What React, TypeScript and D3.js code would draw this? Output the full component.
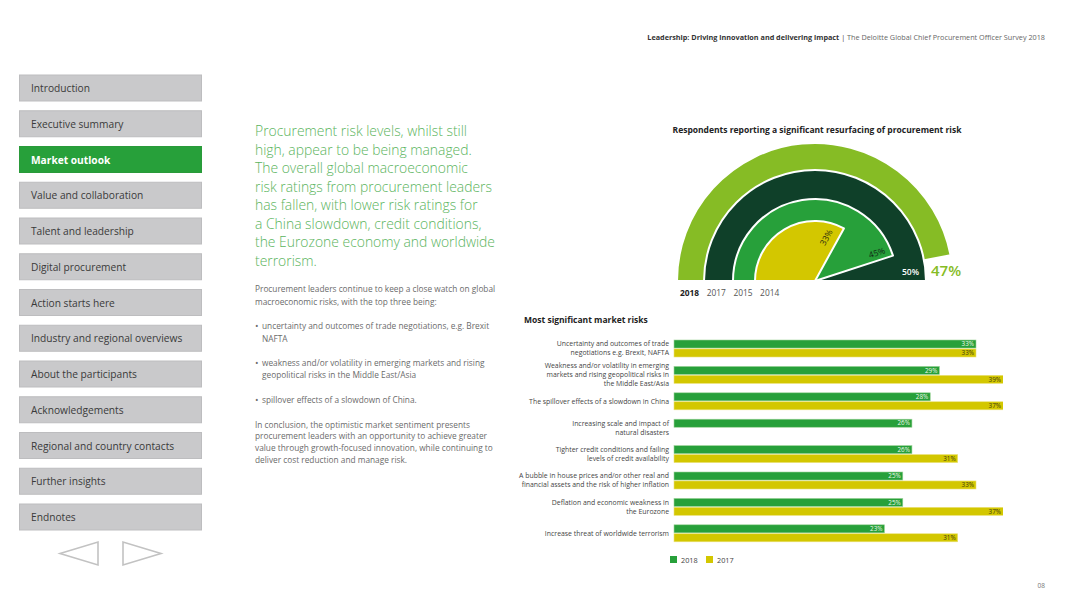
import React from "react";
import * as d3 from "d3";

const W = 1080;
const H = 607;
const FONT = "'Open Sans', 'DejaVu Sans', sans-serif";

// ---------- data ----------
const navItems = [
  "Introduction",
  "Executive summary",
  "Market outlook",
  "Value and collaboration",
  "Talent and leadership",
  "Digital procurement",
  "Action starts here",
  "Industry and regional overviews",
  "About the participants",
  "Acknowledgements",
  "Regional and country contacts",
  "Further insights",
  "Endnotes",
];
const activeNav = "Market outlook";

const headerBold = "Leadership: Driving innovation and delivering impact";
const headerRest = "The Deloitte Global Chief Procurement Officer Survey 2018";
const pageNumber = "08";

const leadLines = [
  "Procurement risk levels, whilst still",
  "high, appear to be being managed.",
  "The overall global macroeconomic",
  "risk ratings from procurement leaders",
  "has fallen, with lower risk ratings for",
  "a China slowdown, credit conditions,",
  "the Eurozone economy and worldwide",
  "terrorism.",
];
const introLines = [
  "Procurement leaders continue to keep a close watch on global",
  "macroeconomic risks, with the top three being:",
];
const bulletLines = [
  ["uncertainty and outcomes of trade negotiations, e.g. Brexit", "NAFTA"],
  ["weakness and/or volatility in emerging markets and rising", "geopolitical risks in the Middle East/Asia"],
  ["spillover effects of a slowdown of China."],
];
const conclusionLines = [
  "In conclusion, the optimistic market sentiment presents",
  "procurement leaders with an opportunity to achieve greater",
  "value through growth-focused innovation, while continuing to",
  "deliver cost reduction and manage risk.",
];

const gaugeTitle = "Respondents reporting a significant resurfacing of procurement risk";
const gaugeYears = ["2018", "2017", "2015", "2014"];
const gaugeValues = [47, 50, 45, 33];

const riskTitle = "Most significant market risks";
const riskCategories = [
  ["Uncertainty and outcomes of trade", "negotiations e.g. Brexit, NAFTA"],
  ["Weakness and/or volatility in emerging", "markets and rising geopolitical risks in", "the Middle East/Asia"],
  ["The spillover effects of a slowdown in China"],
  ["Increasing scale and impact of", "natural disasters"],
  ["Tighter credit conditions and failing", "levels of credit availability"],
  ["A bubble in house prices and/or other real and", "financial assets and the risk of higher inflation"],
  ["Deflation and economic weakness in", "the Eurozone"],
  ["Increase threat of worldwide terrorism"],
];
const risk2018 = [33, 29, 28, 26, 26, 25, 25, 23];
const risk2017: (number | null)[] = [33, 39, 37, null, 31, 33, 37, 31];
const seriesNames = ["2018", "2017"];

// ---------- styles ----------
const C = {
  lightGreen: "#86bc25",
  darkGreen: "#0f4029",
  green: "#27a03a",
  yellow: "#d3c700",
  navGray: "#c9c9cb",
  text: "#333",
  gray: "#6b6b6b",
  lead: "#5ab45d",
};

export default function App() {
  // ---- gauge ----
  const cx = 815;
  const cy = 281;
  const gaugeRadii = [138, 111, 82, 60];
  const gaugeColors = [C.lightGreen, C.darkGreen, C.green, C.yellow];
  const angle = d3.scaleLinear().domain([0, 50]).range([-Math.PI / 2, Math.PI / 2]);
  const arc = d3.arc<any>();
  const polar = (r: number, a: number) => [cx + r * Math.sin(a), cy - r * Math.cos(a)];

  // ---- bars ----
  const catIdx = riskCategories.map((_, i) => String(i));
  const y = d3.scaleBand<string>().domain(catIdx).range([340, 541.8]).paddingInner(0.356).paddingOuter(0);
  const ySub = d3.scaleBand<string>().domain(seriesNames).range([0, y.bandwidth()]).paddingInner(0.1);
  const x = d3.scaleLinear().domain([0, 33]).range([674, 976]);
  const clipX = 1003;
  const seriesColors = d3.scaleOrdinal<string, string>().domain(seriesNames).range([C.green, C.yellow]);
  const seriesStroke = d3.scaleOrdinal<string, string>().domain(seriesNames).range(["#9fd49a", "#ebe27a"]);
  const seriesLabel = d3.scaleOrdinal<string, string>().domain(seriesNames).range(["#eef8ea", "#3b3a10"]);
  const series = [risk2018, risk2017];

  const bodySize = 8.3;

  return (
    <div style={{ position: "fixed", left: 0, top: 0, width: W, height: H, background: "#fff" }}>
      <svg width={W} height={H} style={{ display: "block", fontFamily: FONT }}>
        <defs>
          <clipPath id="barclip">
            <rect x={0} y={0} width={clipX} height={H} />
          </clipPath>
        </defs>
        <rect width={W} height={H} fill="#fff" />

        {/* header */}
        <text x={1045} y={40} textAnchor="end" fontSize={7.25} fill={C.text}>
          <tspan fontWeight={700}>{headerBold}</tspan>
          <tspan fill="#444"> | </tspan>
          <tspan fill="#666">{headerRest}</tspan>
        </text>

        {/* nav */}
        {navItems.map((n, i) => {
          const top = 75 + i * 35.75;
          const active = n === activeNav;
          return (
            <g key={n}>
              <rect x={19.5} y={top} width={182} height={26} fill={active ? C.green : C.navGray}
                stroke={active ? "#2a9a3a" : "#bdbdbf"} strokeWidth={1} />
              <text x={31} y={top + 17} fontSize={10.2} fontWeight={active ? 700 : 400}
                fill={active ? "#fff" : "#3a3a3a"}>{n}</text>
            </g>
          );
        })}
        <polygon points="98,542 98,565 60,553.5" fill="none" stroke="#c2c2c2" strokeWidth={1.6} />
        <polygon points="123,542 123,565 161,553.5" fill="none" stroke="#c2c2c2" strokeWidth={1.6} />

        {/* lead paragraph */}
        {leadLines.map((l, i) => (
          <text key={i} x={255} y={136 + i * 18.5} fontSize={13.9} fill={C.lead} fontWeight={300}>{l}</text>
        ))}
        {introLines.map((l, i) => (
          <text key={i} x={255} y={292 + i * 12.5} fontSize={bodySize} fill={C.gray}>{l}</text>
        ))}
        {bulletLines.map((b, bi) => (
          <g key={bi}>
            <text x={255} y={329 + bi * 36.8} fontSize={bodySize + 1} fill={C.gray}>•</text>
            {b.map((l, li) => (
              <text key={li} x={262} y={329 + bi * 36.8 + li * 12.5} fontSize={bodySize} fill={C.gray}>{l}</text>
            ))}
          </g>
        ))}
        {conclusionLines.map((l, i) => (
          <text key={i} x={255} y={427.5 + i * 11.7} fontSize={bodySize} fill={C.gray}>{l}</text>
        ))}

        {/* gauge */}
        <text x={817} y={133} textAnchor="middle" fontSize={8.5} fontWeight={700} fill="#222">{gaugeTitle}</text>
        {gaugeValues.map((v, i) => (
          <path key={i}
            d={arc({ innerRadius: 0, outerRadius: gaugeRadii[i], startAngle: angle(0), endAngle: angle(v) }) || ""}
            transform={`translate(${cx},${cy})`}
            fill={gaugeColors[i]} stroke="#fff" strokeWidth={2} strokeLinejoin="round" />
        ))}
        {(() => {
          const a33 = angle(gaugeValues[3]);
          const p33 = polar(45, a33 - 0.26);
          const a45 = angle(gaugeValues[2]);
          const p45 = polar(68, a45 - 0.12);
          const p50 = polar(96, angle(gaugeValues[1]) - 0.1);
          const rot33 = (a33 * 180) / Math.PI - 90;
          const rot45 = (a45 * 180) / Math.PI - 90;
          return (
            <g>
              <text x={p33[0]} y={p33[1]} textAnchor="middle" dominantBaseline="central" fontSize={8.5}
                fill="#2a2a10" transform={`rotate(${rot33},${p33[0]},${p33[1]})`}>{gaugeValues[3]}%</text>
              <text x={p45[0]} y={p45[1]} textAnchor="middle" dominantBaseline="central" fontSize={8.5}
                fill="#102a15" transform={`rotate(${rot45},${p45[0]},${p45[1]})`}>{gaugeValues[2]}%</text>
              <text x={p50[0]} y={p50[1]} textAnchor="middle" dominantBaseline="central" fontSize={8.5}
                fontWeight={600} fill="#fff">{gaugeValues[1]}%</text>
              <text x={cx + 116} y={cy - 5.5} fontSize={15} fontWeight={600} fill={C.lightGreen}>{gaugeValues[0]}%</text>
            </g>
          );
        })()}
        {gaugeYears.map((yr, i) => (
          <text key={yr} x={680 + i * 26.7} y={296} fontSize={8.4} fontWeight={i === 0 ? 700 : 400}
            fill={i === 0 ? "#222" : "#555"}>{yr}</text>
        ))}

        {/* bar chart */}
        <text x={524} y={323} fontSize={8.5} fontWeight={700} fill="#222">{riskTitle}</text>
        {riskCategories.map((lines, i) => {
          const band = y(String(i)) as number;
          const mid = band + y.bandwidth() / 2;
          return (
            <g key={i}>
              {lines.map((l, li) => (
                <text key={li} x={669} y={mid + (li - (lines.length - 1) / 2) * 9 + 2.4}
                  textAnchor="end" fontSize={6.9} fill="#444">{l}</text>
              ))}
              {series.map((s, si) => {
                const v = s[i];
                if (v == null) return null;
                const name = seriesNames[si];
                const by = band + (ySub(name) as number);
                const bh = ySub.bandwidth();
                const end = Math.min(x(v), clipX);
                return (
                  <g key={si}>
                    <rect x={x(0)} y={by} width={x(v) - x(0)} height={bh} fill={seriesColors(name)}
                      stroke={seriesStroke(name)} strokeWidth={0.6} clipPath="url(#barclip)" />
                    <text x={end - 2} y={by + bh / 2 + 2.2} textAnchor="end" fontSize={6.3}
                      fill={seriesLabel(name)}>{v}%</text>
                  </g>
                );
              })}
            </g>
          );
        })}
        {seriesNames.map((n, i) => (
          <g key={n}>
            <rect x={670 + i * 36} y={556} width={7} height={7} fill={seriesColors(n)} />
            <text x={681 + i * 36} y={562.5} fontSize={7.3} fill="#444">{n}</text>
          </g>
        ))}

        <text x={1045} y={588} textAnchor="end" fontSize={6.5} fill="#777">{pageNumber}</text>
      </svg>
    </div>
  );
}
